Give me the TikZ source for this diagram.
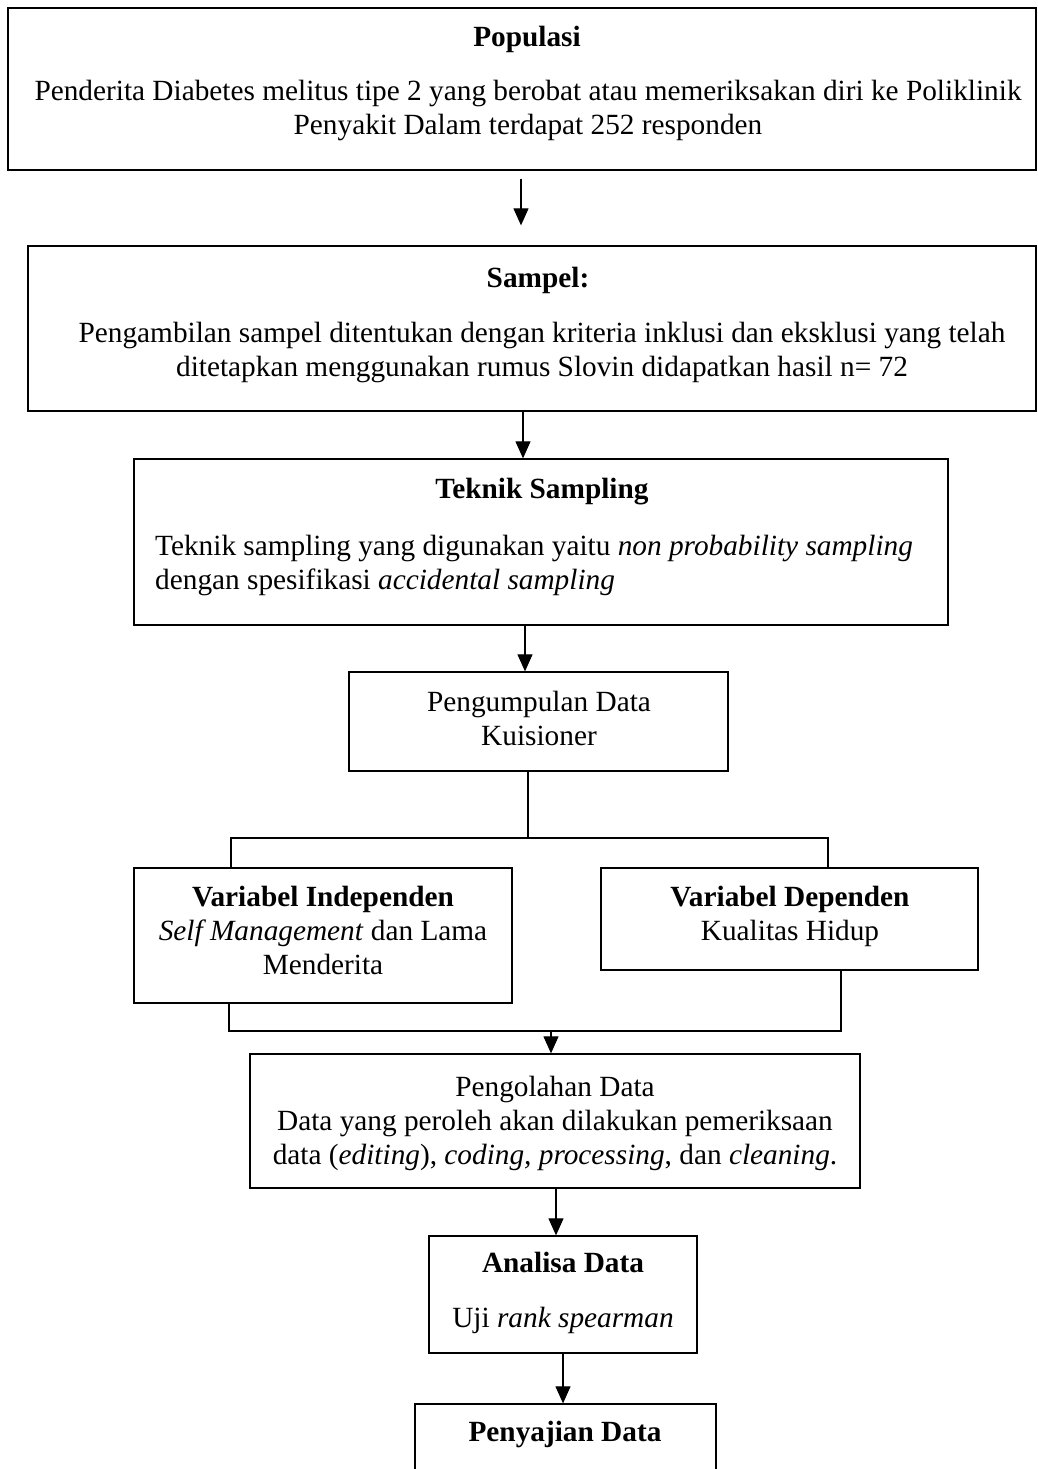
\documentclass[tikz,border=0pt]{standalone}
\usepackage{fontspec}
\setmainfont{Liberation Serif}
\usetikzlibrary{arrows.meta}
\begin{document}
\begin{tikzpicture}[x=1pt,y=-1pt,
  box/.style={draw=black, line width=1.3pt, rectangle, inner sep=0pt},
  con/.style={line width=1.1pt},
  arr/.style={con, -{Triangle[width=15pt,length=17pt]}},
  txt/.style={inner sep=0pt, anchor=base, font=\fontsize{29.3}{34}\selectfont}]
\useasboundingbox (0,0) rectangle (1038,1469);
\clip (0,0) rectangle (1038,1469);
% boxes
\node[box, minimum width=1028pt, minimum height=162pt] (pop) at (522,89) {};
\node[box, minimum width=1008pt, minimum height=165pt] (samp) at (532,328.5) {};
\node[box, minimum width=814pt, minimum height=166pt] (tek) at (541,542) {};
\node[box, minimum width=379pt, minimum height=99pt] (kol) at (538.5,721.5) {};
\node[box, minimum width=378pt, minimum height=135pt] (ind) at (323,935.5) {};
\node[box, minimum width=377pt, minimum height=102pt] (dep) at (789.5,919) {};
\node[box, minimum width=610pt, minimum height=134pt] (proc) at (555,1121) {};
\node[box, minimum width=268pt, minimum height=117pt] (ana) at (563,1294.5) {};
\node[box, minimum width=301pt, minimum height=100pt] (saji) at (565.5,1454) {};
% texts
\node[txt] (popT) at (527,47) {\textbf{Populasi}};
\node[txt] (popB) at (528,101) {\begin{tabular}[t]{@{}c@{}}Penderita Diabetes melitus tipe 2 yang berobat atau memeriksakan diri ke Poliklinik\\ Penyakit Dalam terdapat 252 responden\end{tabular}};
\node[txt] (sampT) at (538,287) {\textbf{Sampel:}};
\node[txt] (sampB) at (542,342) {\begin{tabular}[t]{@{}c@{}}Pengambilan sampel ditentukan dengan kriteria inklusi dan eksklusi yang telah\\ ditetapkan menggunakan rumus Slovin didapatkan hasil n= 72\end{tabular}};
\node[txt] (tekT) at (542,498) {\textbf{Teknik Sampling}};
\node[txt, anchor=base west] (tekB) at (155,555) {\begin{tabular}[t]{@{}l@{}}Teknik sampling yang digunakan yaitu \textit{non probability sampling}\\ dengan spesifikasi \textit{accidental sampling}\end{tabular}};
\node[txt] (kolT) at (539,711) {\begin{tabular}[t]{@{}c@{}}Pengumpulan Data\\ Kuisioner\end{tabular}};
\node[txt] (indT) at (323,906) {\begin{tabular}[t]{@{}c@{}}\textbf{Variabel Independen}\\ \textit{Self Management} dan Lama\\ Menderita\end{tabular}};
\node[txt] (depT) at (790,906) {\begin{tabular}[t]{@{}c@{}}\textbf{Variabel Dependen}\\ Kualitas Hidup\end{tabular}};
\node[txt] (procT) at (555,1096) {\begin{tabular}[t]{@{}c@{}}Pengolahan Data\\ Data yang peroleh akan dilakukan pemeriksaan\\ data (\textit{editing}), \textit{coding, processing}, dan \textit{cleaning}.\end{tabular}};
\node[txt] (anaT) at (563,1272) {\textbf{Analisa Data}};
\node[txt] (anaB) at (563,1327) {Uji \textit{rank spearman}};
\node[txt] (sajiT) at (565,1441) {\textbf{Penyajian Data}};
% connectors
\coordinate (a1) at ([xshift=-1pt,yshift=-8pt]pop.south);
\draw[arr, shorten >=20pt] (a1) -- (a1 |- samp.north);
\coordinate (a2) at ([xshift=-9pt]samp.south);
\draw[arr] (a2) -- (a2 |- tek.north);
\coordinate (a3) at ([xshift=-16pt]tek.south);
\draw[arr] (a3) -- (a3 |- kol.north);
\coordinate (split) at (528,838);
\coordinate (sL) at (231,838);
\coordinate (sR) at (828,838);
\draw[con] (split |- kol.south) -- (split);
\draw[con] (sL |- ind.north) -- (sL) -- (sR) -- (sR |- dep.north);
\coordinate (mL) at (229,1031);
\coordinate (mR) at (841,1031);
\coordinate (merge) at (551,1031);
\draw[con] (mL |- ind.south) -- (mL) -- (mR) -- (mR |- dep.south);
\draw[arr] (merge) -- (merge |- proc.north);
\coordinate (a6) at ([xshift=1pt]proc.south);
\draw[arr] (a6) -- (a6 |- ana.north);
\draw[arr] (ana.south) -- (ana.south |- saji.north);
\end{tikzpicture}
\end{document}
